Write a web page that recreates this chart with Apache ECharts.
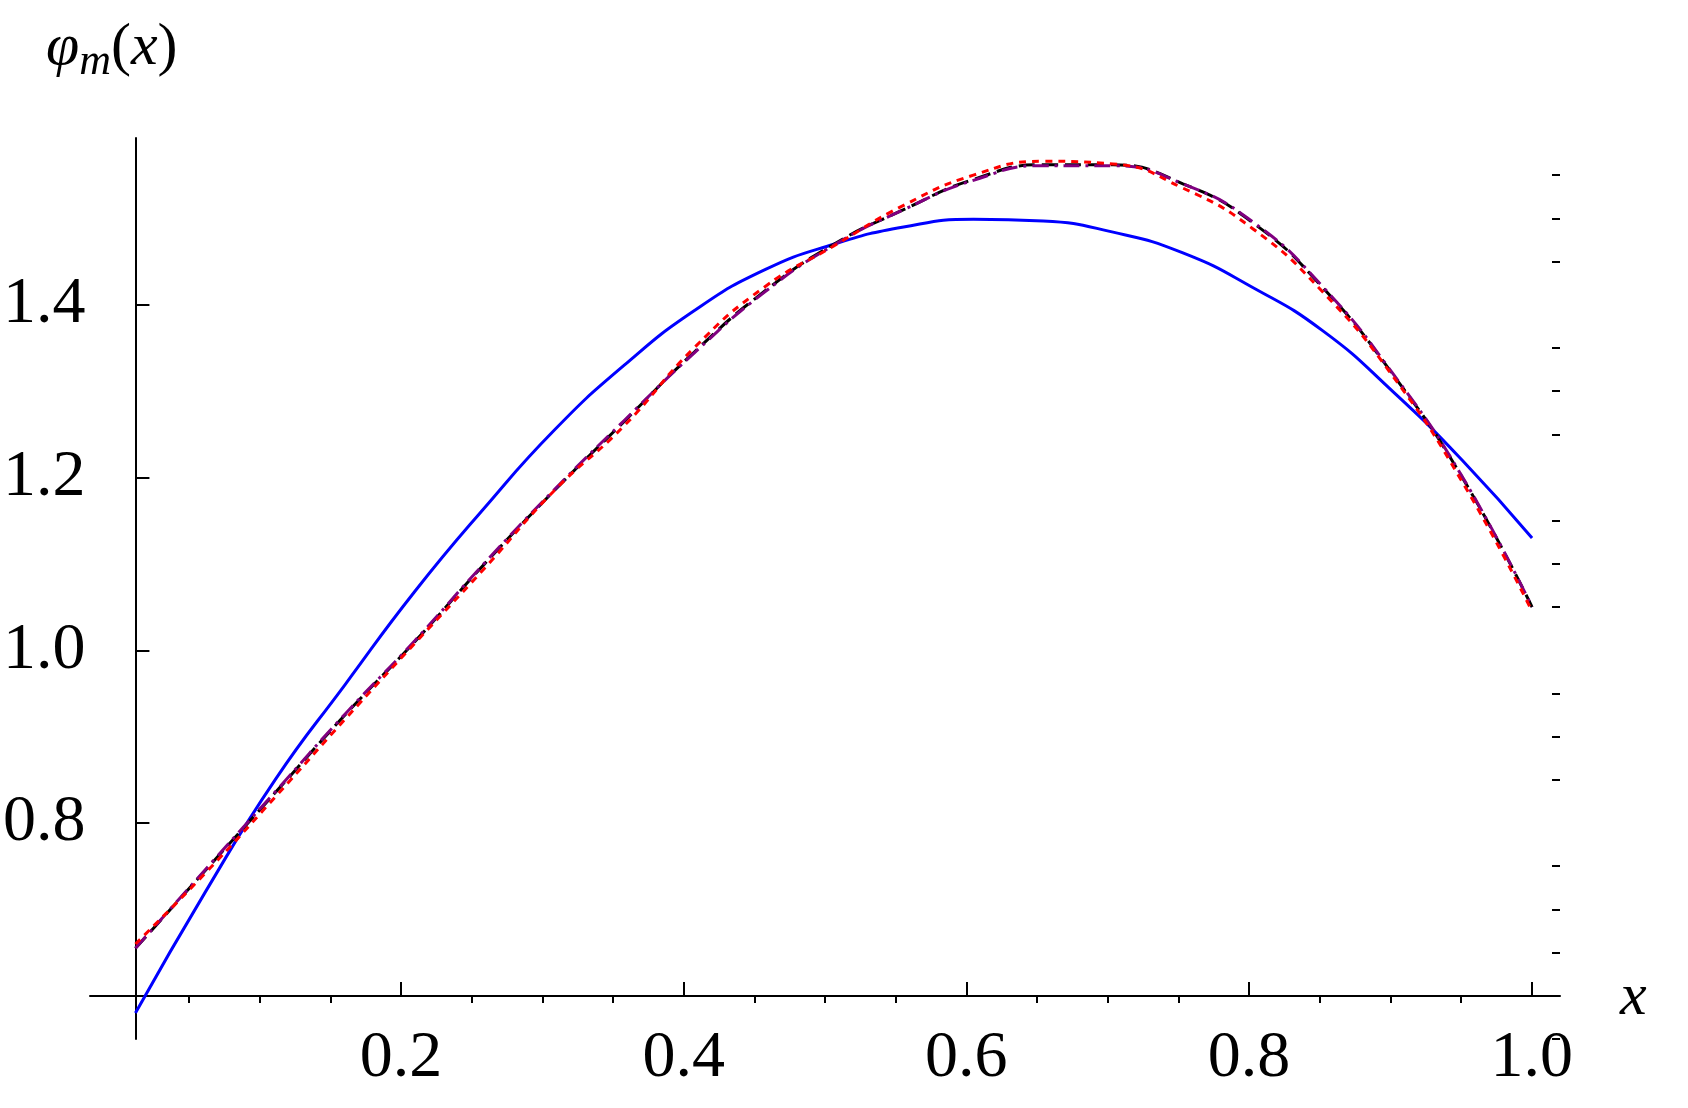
<!DOCTYPE html>
<html>
<head>
<meta charset="utf-8">
<script src="https://cdn.jsdelivr.net/npm/echarts@6/dist/echarts.min.js"></script>
<style>html,body{margin:0;background:#fff}#c{width:1688px;height:1108px}</style>
</head>
<body>
<div id="c"></div>
<script>
var xs = [0, 0.05, 0.1, 0.15, 0.2, 0.25, 0.3, 0.35, 0.4, 0.45, 0.5, 0.55, 0.6, 0.65, 0.7, 0.75, 0.8, 0.85, 0.9, 0.95, 1.0];
var blue = [0.58, 0.72, 0.85, 0.96, 1.068, 1.165, 1.255, 1.33, 1.393, 1.44, 1.47, 1.49, 1.499, 1.497, 1.484, 1.46, 1.42, 1.37, 1.30, 1.22, 1.13];
var black = [0.655, 0.745, 0.835, 0.925, 1.01, 1.10, 1.185, 1.265, 1.345, 1.415, 1.47, 1.51, 1.545, 1.562, 1.562, 1.54, 1.495, 1.42, 1.32, 1.20, 1.05];
var purple = [0.655, 0.746, 0.836, 0.926, 1.011, 1.101, 1.186, 1.266, 1.344, 1.414, 1.469, 1.51, 1.544, 1.561, 1.561, 1.54, 1.496, 1.421, 1.321, 1.201, 1.05];
var red = [0.66, 0.742, 0.83, 0.92, 1.008, 1.095, 1.185, 1.26, 1.35, 1.42, 1.468, 1.515, 1.55, 1.566, 1.563, 1.535, 1.488, 1.415, 1.318, 1.195, 1.045];
var xMajor = [0.2, 0.4, 0.6, 0.8, 1.0];
var xMinor = [0.05, 0.1, 0.15, 0.25, 0.3, 0.35, 0.45, 0.5, 0.55, 0.65, 0.7, 0.75, 0.85, 0.9, 0.95];
var yMajor = [0.6, 0.8, 1.0, 1.2, 1.4];
var yMinor = [0.55, 0.65, 0.7, 0.75, 0.85, 0.9, 0.95, 1.05, 1.1, 1.15, 1.25, 1.3, 1.35, 1.45, 1.5, 1.55];

function pts(ys) { return xs.map(function (x, i) { return [x, ys[i]]; }); }
var font = '"Liberation Serif", "DejaVu Serif", serif';

var chart = echarts.init(document.getElementById('c'));
var line = function (name, ys, color, dash, z) {
  return { name: name, type: 'line', data: pts(ys), smooth: true, showSymbol: false, symbol: 'none', z: z,
    lineStyle: { color: color, width: 3, type: dash } };
};
chart.setOption({
  animation: false,
  grid: [
    { left: 90, width: 1470, top: 138, height: 901 },
    { left: 90, width: 1470, top: 995, height: 1 }
  ],
  xAxis: [
    { gridIndex: 0, type: 'value', min: -0.02, max: 1.02, show: false },
    { gridIndex: 1, type: 'value', min: -0.02, max: 1.02, splitLine: { show: false },
      axisLine: { lineStyle: { color: '#000', width: 2 } },
      axisTick: { inside: true, length: 14, lineStyle: { color: '#000', width: 2 }, customValues: xMajor },
      axisLabel: { customValues: xMajor, margin: 30, fontSize: 66, fontFamily: font, color: '#000',
        formatter: function (v) { return v.toFixed(1); } } },
    { gridIndex: 1, type: 'value', min: -0.02, max: 1.02, splitLine: { show: false },
      axisLine: { show: false },
      axisTick: { inside: true, length: 8, lineStyle: { color: '#000', width: 2 }, customValues: xMinor },
      axisLabel: { show: false } }
  ],
  yAxis: [
    { gridIndex: 0, type: 'value', min: 0.55, max: 1.593, splitLine: { show: false },
      axisLine: { show: true, onZero: true, lineStyle: { color: '#000', width: 2 } },
      axisTick: { inside: true, length: 14, lineStyle: { color: '#000', width: 2 }, customValues: yMajor.slice(1) },
      axisLabel: { customValues: yMajor.slice(1), margin: 22, fontSize: 66, fontFamily: font, color: '#000',
        formatter: function (v) { return v.toFixed(1); } } },
    { gridIndex: 0, type: 'value', min: 0.55, max: 1.593, splitLine: { show: false },
      axisLine: { show: false, onZero: true },
      axisTick: { inside: true, length: 8, lineStyle: { color: '#000', width: 2 }, customValues: yMinor },
      axisLabel: { show: false } },
    { gridIndex: 1, type: 'value', show: false }
  ],
  graphic: [
    { type: 'text', left: 46, top: 18, style: { text: '{i|φ}{s|m}{n|(}{i|x}{n|)}', font: '60px ' + font, fill: '#000',
      rich: { i: { fontStyle: 'italic', fontSize: 60, fontFamily: font },
              s: { fontStyle: 'italic', fontSize: 44, fontFamily: font, padding: [28, 0, 0, 0] },
              n: { fontSize: 60, fontFamily: font } } } },
    { type: 'text', left: 1620, top: 968, style: { text: 'x', fill: '#000', fontStyle: 'italic', fontSize: 60, fontFamily: font } }
  ],
  series: [
    line('blue', blue, '#0000ff', 'solid', 2),
    line('black', black, '#000', [16, 7], 3),
    line('purple', purple, '#800080', [16, 6, 3, 6], 4),
    line('red', red, '#ff0000', [7, 6], 5)
  ]
});
</script>
</body>
</html>
